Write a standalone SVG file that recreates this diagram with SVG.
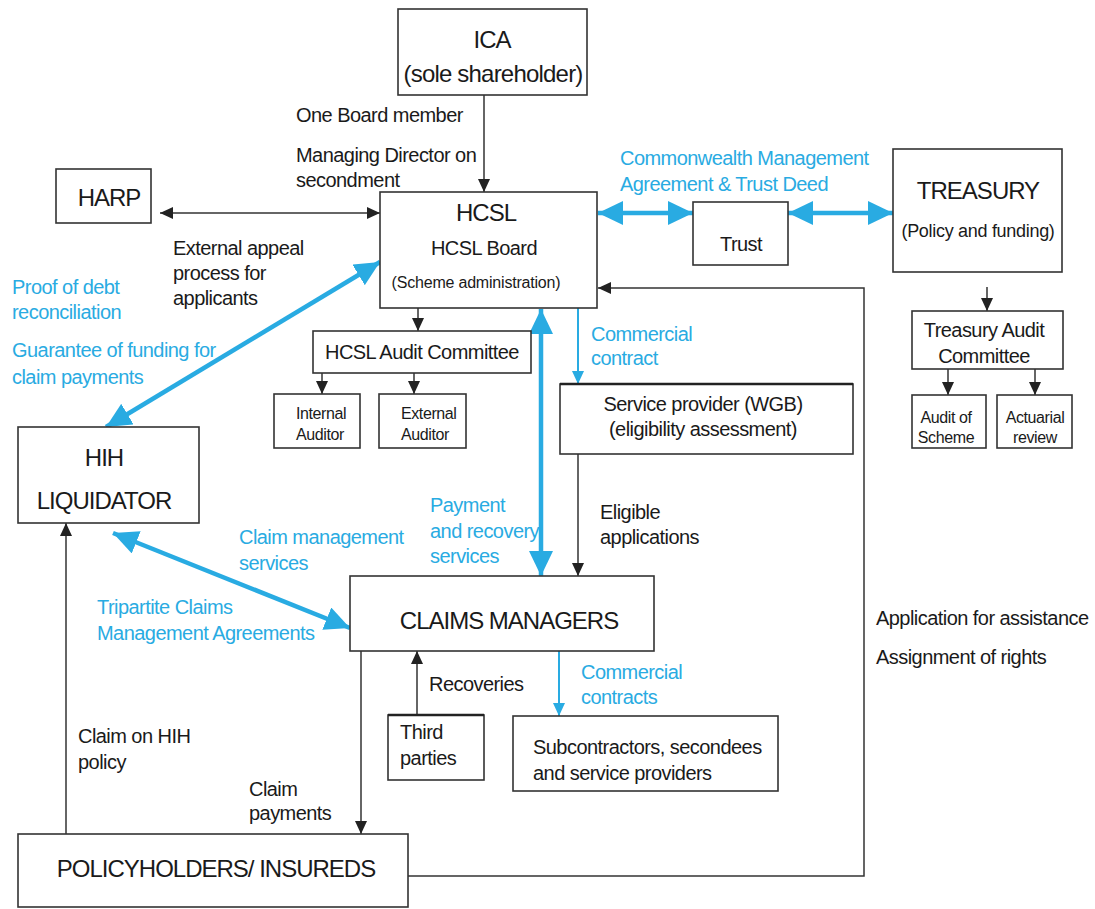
<svg xmlns="http://www.w3.org/2000/svg" width="1095" height="909" viewBox="0 0 1095 909">
<style>
.box{fill:#fff;stroke:#333;stroke-width:1.6}
text{font-family:"Liberation Sans",Arial,sans-serif;fill:#1a1a1a}
.t20{font-size:20px;letter-spacing:-0.55px}
.t24{font-size:24px;letter-spacing:-1px}
.t16{font-size:16px;letter-spacing:-0.4px}
.blue{fill:#29abe2}
.c{text-anchor:middle}
.ln{fill:none;stroke:#333;stroke-width:1.5}
.bl{fill:none;stroke:#29abe2;stroke-width:4.5}
.bt{fill:none;stroke:#29abe2;stroke-width:2}
</style>
<defs>
<marker id="ab" markerUnits="userSpaceOnUse" markerWidth="13" markerHeight="12" refX="13" refY="6" orient="auto-start-reverse"><path d="M0,0 L13,6 L0,12 z" fill="#222"/></marker>
<marker id="abl" markerUnits="userSpaceOnUse" markerWidth="25" markerHeight="24" refX="25" refY="12" orient="auto-start-reverse"><path d="M0,0 L25,12 L0,24 z" fill="#29abe2"/></marker>
<marker id="abs" markerUnits="userSpaceOnUse" markerWidth="13" markerHeight="12" refX="13" refY="6" orient="auto-start-reverse"><path d="M0,0 L13,6 L0,12 z" fill="#29abe2"/></marker>
</defs>

<g id="connectors">
<line class="ln" x1="484" y1="95" x2="484" y2="192" marker-end="url(#ab)"/>
<line class="ln" x1="160" y1="213" x2="380" y2="213" marker-start="url(#ab)" marker-end="url(#ab)"/>
<line class="bl" x1="598" y1="213" x2="693" y2="213" marker-start="url(#abl)" marker-end="url(#abl)"/>
<line class="bl" x1="788" y1="213" x2="893" y2="213" marker-start="url(#abl)" marker-end="url(#abl)"/>
<line class="ln" x1="987" y1="287" x2="987" y2="311" marker-end="url(#ab)"/>
<line class="ln" x1="948" y1="369" x2="948" y2="395" marker-end="url(#ab)"/>
<line class="ln" x1="1035" y1="369" x2="1035" y2="395" marker-end="url(#ab)"/>
<line class="ln" x1="418" y1="308" x2="418" y2="331" marker-end="url(#ab)"/>
<line class="ln" x1="322" y1="373" x2="322" y2="394" marker-end="url(#ab)"/>
<line class="ln" x1="414" y1="373" x2="414" y2="394" marker-end="url(#ab)"/>
<line class="bt" x1="578" y1="308" x2="578" y2="384" marker-end="url(#abs)"/>
<line class="ln" x1="578" y1="454" x2="578" y2="576" marker-end="url(#ab)"/>
<line class="bl" x1="541" y1="309" x2="541" y2="576" marker-start="url(#abl)" marker-end="url(#abl)"/>
<line class="bl" x1="380" y1="262" x2="106" y2="427" marker-start="url(#abl)" marker-end="url(#abl)"/>
<line class="bl" x1="113" y1="533" x2="350" y2="628" marker-start="url(#abl)" marker-end="url(#abl)"/>
<line class="ln" x1="417" y1="715" x2="417" y2="651" marker-end="url(#ab)"/>
<line class="bt" x1="559" y1="651" x2="559" y2="716" marker-end="url(#abs)"/>
<line class="ln" x1="361" y1="651" x2="361" y2="834" marker-end="url(#ab)"/>
<line class="ln" x1="66" y1="834" x2="66" y2="523" marker-end="url(#ab)"/>
<polyline class="ln" points="408,876 864,876 864,288 598,288" marker-end="url(#ab)"/>
</g>

<g id="ica">
<rect class="box" x="398" y="9" width="189" height="86"/>
<text class="t24 c" x="492" y="48">ICA</text>
<text class="t24 c" x="493" y="82" style="letter-spacing:-0.8px">(sole shareholder)</text>
</g>
<g id="harp">
<rect class="box" x="56" y="169" width="95" height="54"/>
<text class="t24 c" x="109" y="206">HARP</text>
</g>
<g id="hcsl">
<rect class="box" x="380" y="192" width="217" height="116"/>
<text class="t24 c" x="486" y="221">HCSL</text>
<text class="t20 c" x="484" y="255">HCSL Board</text>
<text class="t16 c" x="476" y="288" style="letter-spacing:-0.2px">(Scheme administration)</text>
</g>
<g id="trust">
<rect class="box" x="693" y="202" width="95" height="63"/>
<text class="t20 c" x="741" y="251">Trust</text>
</g>
<g id="treasury">
<rect class="box" x="893" y="149" width="169" height="123"/>
<text class="t24 c" x="978" y="199">TREASURY</text>
<text class="c" x="978" y="237" style="font-size:18px;letter-spacing:-0.3px">(Policy and funding)</text>
</g>
<g id="treasury-audit">
<rect class="box" x="912" y="311" width="151" height="58"/>
<text class="t20 c" x="984" y="337">Treasury Audit</text>
<text class="t20 c" x="984" y="363">Committee</text>
</g>
<g id="audit-scheme">
<rect class="box" x="912" y="395" width="74" height="53"/>
<text class="t16 c" x="946" y="423">Audit of</text>
<text class="t16 c" x="946" y="443">Scheme</text>
</g>
<g id="actuarial">
<rect class="box" x="997" y="395" width="75" height="53"/>
<text class="t16 c" x="1035" y="423">Actuarial</text>
<text class="t16 c" x="1035" y="443">review</text>
</g>
<g id="hcsl-audit">
<rect class="box" x="313" y="331" width="218" height="42"/>
<text class="t20 c" x="422" y="359">HCSL Audit Committee</text>
</g>
<g id="internal-auditor">
<rect class="box" x="274" y="394" width="86" height="54"/>
<text class="t16" x="296" y="419">Internal</text>
<text class="t16" x="296" y="440">Auditor</text>
</g>
<g id="external-auditor">
<rect class="box" x="379" y="394" width="87" height="54"/>
<text class="t16" x="401" y="419">External</text>
<text class="t16" x="401" y="440">Auditor</text>
</g>
<g id="service-provider">
<rect class="box" x="560" y="384" width="293" height="70"/>
<line x1="560" y1="384" x2="853" y2="384" stroke="#222" stroke-width="2.5"/>
<text class="t20 c" x="703" y="411">Service provider (WGB)</text>
<text class="t20 c" x="703" y="436">(eligibility assessment)</text>
</g>
<g id="hih">
<rect class="box" x="18" y="427" width="181" height="96"/>
<text class="t24 c" x="104" y="466">HIH</text>
<text class="t24 c" x="104" y="509">LIQUIDATOR</text>
</g>
<g id="claims-managers">
<rect class="box" x="350" y="576" width="304" height="75"/>
<text class="t24 c" x="509" y="629">CLAIMS MANAGERS</text>
</g>
<g id="third-parties">
<rect class="box" x="388" y="715" width="96" height="65"/>
<line x1="388" y1="715" x2="484" y2="715" stroke="#222" stroke-width="2.5"/>
<text class="t20" x="400" y="739">Third</text>
<text class="t20" x="400" y="765">parties</text>
</g>
<g id="subcontractors">
<rect class="box" x="513" y="716" width="265" height="75"/>
<text class="t20" x="533" y="754">Subcontractors, secondees</text>
<text class="t20" x="533" y="780">and service providers</text>
</g>
<g id="policyholders">
<rect class="box" x="18" y="834" width="390" height="73"/>
<text class="t24 c" x="216" y="877">POLICYHOLDERS/ INSUREDS</text>
</g>

<g id="labels">
<text class="t20" x="296" y="122">One Board member</text>
<text class="t20" x="296" y="162">Managing Director on</text>
<text class="t20" x="296" y="187">secondment</text>
<text class="t20" x="173" y="255">External appeal</text>
<text class="t20" x="173" y="280">process for</text>
<text class="t20" x="173" y="305">applicants</text>
<text class="t20 blue" x="12" y="294">Proof of debt</text>
<text class="t20 blue" x="12" y="319">reconciliation</text>
<text class="t20 blue" x="12" y="357">Guarantee of funding for</text>
<text class="t20 blue" x="12" y="384">claim payments</text>
<text class="t20 blue" x="620" y="165">Commonwealth Management</text>
<text class="t20 blue" x="620" y="191">Agreement &amp; Trust Deed</text>
<text class="t20 blue" x="591" y="341">Commercial</text>
<text class="t20 blue" x="591" y="365">contract</text>
<text class="t20" x="600" y="519">Eligible</text>
<text class="t20" x="600" y="544">applications</text>
<text class="t20 blue" x="430" y="512">Payment</text>
<text class="t20 blue" x="430" y="538">and recovery</text>
<text class="t20 blue" x="430" y="563">services</text>
<text class="t20 blue" x="239" y="544">Claim management</text>
<text class="t20 blue" x="239" y="570">services</text>
<text class="t20 blue" x="97" y="614">Tripartite Claims</text>
<text class="t20 blue" x="97" y="640">Management Agreements</text>
<text class="t20" x="429" y="691">Recoveries</text>
<text class="t20 blue" x="581" y="679">Commercial</text>
<text class="t20 blue" x="581" y="704">contracts</text>
<text class="t20" x="78" y="743">Claim on HIH</text>
<text class="t20" x="78" y="769">policy</text>
<text class="t20" x="249" y="796">Claim</text>
<text class="t20" x="249" y="820">payments</text>
<text class="t20" x="876" y="625">Application for assistance</text>
<text class="t20" x="876" y="664">Assignment of rights</text>
</g>
</svg>
